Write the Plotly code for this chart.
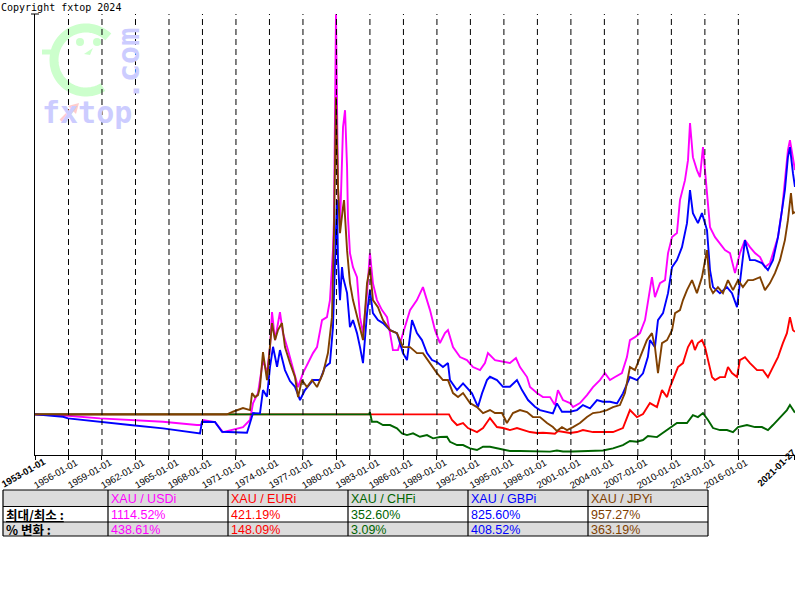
import numpy as np
import pandas as pd
import plotly.graph_objects as go

# ---------------- data (decimal year, index value; start = 100) ----------------
usd = [(1953.0, 100), (1955.96, 97.5), (1958.82, 92.8), (1961.5, 89.8), (1964.46, 86.7), (1967.5, 80.8),
       (1967.87, 80.8), (1968.05, 89.8), (1969.12, 86.2), (1969.84, 68.2), (1970.47, 71.8), (1971.63, 77.2),
       (1972.26, 89.8), (1972.53, 120.3), (1972.97, 138.2), (1973.42, 197.5), (1973.78, 174.1), (1974.05, 220.8),
       (1974.23, 283.6), (1974.5, 233.4), (1974.94, 283.6), (1975.21, 245.9), (1975.66, 215.4), (1976.11, 183.1),
       (1976.56, 149.0), (1977.0, 174.1), (1977.45, 192.1), (1977.9, 210.0), (1978.26, 220.8), (1978.71, 269.3),
       (1979.15, 274.6), (1979.42, 305.2), (1979.69, 394.9), (1979.78, 448.8), (1979.96, 818.6), (1980.05, 664.3),
       (1980.14, 508.0), (1980.32, 436.2), (1980.59, 615.8), (1980.77, 646.3), (1980.95, 544.0), (1981.03, 454.2),
       (1981.21, 389.6), (1981.48, 364.4), (1981.84, 346.5), (1982.11, 274.6), (1982.38, 245.9), (1982.74, 317.7),
       (1983.0, 389.6), (1983.27, 335.7), (1983.63, 305.2), (1984.08, 287.2), (1984.53, 274.6), (1984.8, 245.9),
       (1985.06, 215.4), (1985.51, 215.4), (1985.96, 245.9), (1986.59, 287.2), (1987.21, 305.2), (1987.75, 328.5),
       (1988.38, 287.2), (1988.83, 251.3), (1989.27, 228.0), (1989.72, 245.9), (1989.99, 251.3), (1990.44, 220.8),
       (1991.07, 202.9), (1991.69, 197.5), (1992.23, 184.9), (1992.86, 179.5), (1993.3, 192.1), (1993.57, 210.0),
       (1994.2, 197.5), (1994.92, 193.9), (1995.54, 192.1), (1996.08, 201.1), (1996.44, 184.9), (1997.07, 167.0),
       (1997.34, 149.0), (1997.96, 138.2), (1998.5, 131.0), (1999.13, 131.0), (1999.57, 116.7), (1999.84, 143.6),
       (2000.29, 125.7), (2000.92, 120.3), (2001.19, 113.1), (2001.81, 120.3), (2002.44, 134.6), (2002.98, 149.0),
       (2003.6, 161.6), (2004.05, 174.1), (2004.5, 161.6), (2004.95, 167.0), (2005.57, 174.1), (2006.02, 202.9),
       (2006.29, 233.4), (2006.74, 238.7), (2007.19, 245.9), (2007.64, 269.3), (2007.9, 305.2), (2008.26, 346.5),
       (2008.53, 310.6), (2008.98, 335.7), (2009.43, 341.1), (2009.7, 389.6), (2010.06, 418.3), (2010.5, 425.5),
       (2010.77, 484.7), (2011.22, 520.6), (2011.49, 556.5), (2011.67, 623.0), (2011.93, 561.9), (2012.29, 538.6),
       (2012.56, 526.0), (2012.83, 579.9), (2013.19, 497.3), (2013.46, 436.2), (2013.91, 418.3), (2014.35, 407.5),
       (2014.8, 394.9), (2015.25, 389.6), (2015.7, 353.6), (2016.14, 389.6), (2016.59, 412.9), (2017.04, 400.3),
       (2017.49, 389.6), (2017.94, 382.4), (2018.38, 364.4), (2018.83, 371.6), (2019.1, 389.6), (2019.55, 418.3),
       (2019.91, 466.8), (2020.17, 515.2), (2020.44, 574.5), (2020.62, 592.4), (2020.89, 556.5), (2021.07, 538.61)]

eur = [(1953.0, 100), (1990.08, 100), (1990.35, 89.8), (1990.8, 80.8), (1991.34, 84.4), (1991.78, 75.4),
       (1992.59, 68.2), (1993.13, 75.4), (1993.75, 93.3), (1994.38, 77.2), (1994.92, 75.4), (1995.54, 71.8),
       (1996.17, 75.4), (1996.71, 71.8), (1997.34, 68.2), (1997.96, 66.4), (1998.5, 67.0), (1999.13, 66.0),
       (1999.57, 65.2), (1999.84, 70.0), (2000.29, 68.2), (2000.92, 66.4), (2001.54, 68.2), (2002.08, 71.8),
       (2002.98, 68.2), (2003.87, 68.2), (2004.77, 68.2), (2005.66, 75.4), (2006.29, 107.7), (2006.92, 95.1),
       (2007.46, 100.5), (2008.08, 120.3), (2008.71, 113.1), (2009.16, 143.6), (2009.61, 131.0), (2009.88, 149.0),
       (2010.33, 174.1), (2010.59, 184.9), (2011.04, 192.1), (2011.49, 220.8), (2011.85, 233.4), (2012.11, 215.4),
       (2012.38, 228.0), (2012.74, 233.4), (2013.01, 220.8), (2013.28, 197.5), (2013.64, 166.9), (2013.91, 161.6),
       (2014.35, 166.9), (2014.8, 166.9), (2015.07, 184.9), (2015.43, 174.1), (2015.88, 166.9), (2016.14, 197.5),
       (2016.59, 202.8), (2017.04, 192.1), (2017.67, 179.5), (2018.2, 179.5), (2018.65, 166.9), (2019.1, 184.9),
       (2019.55, 202.8), (2019.99, 228.0), (2020.35, 245.9), (2020.62, 274.6), (2020.89, 251.3), (2021.07, 248.09)]

chf = [(1953.0, 100), (1982.92, 100), (1983.0, 104.1), (1983.18, 86.7), (1983.63, 86.7), (1984.17, 80.8),
       (1984.8, 80.8), (1985.42, 74.9), (1985.87, 65.9), (1986.32, 62.8), (1986.86, 65.9), (1987.48, 59.8),
       (1988.11, 62.8), (1988.65, 56.9), (1989.27, 59.2), (1989.9, 59.8), (1990.17, 50.8), (1990.8, 44.9),
       (1991.34, 44.9), (1991.96, 39.0), (1992.59, 35.9), (1993.13, 41.8), (1993.75, 41.8), (1994.38, 39.0),
       (1994.92, 35.9), (1995.54, 34.1), (1996.44, 34.1), (1997.34, 33.6), (1998.23, 33.2), (1999.13, 33.1),
       (1999.75, 35.0), (2000.29, 33.2), (2001.19, 33.2), (2002.08, 34.1), (2002.98, 34.1), (2003.87, 35.0),
       (2004.77, 39.0), (2005.66, 44.9), (2006.29, 52.1), (2006.92, 50.8), (2007.46, 53.9), (2007.9, 61.0),
       (2008.71, 59.2), (2009.61, 71.8), (2010.5, 84.4), (2011.4, 84.4), (2011.93, 98.7), (2012.38, 95.1),
       (2012.83, 102.3), (2013.28, 89.8), (2013.73, 75.4), (2014.35, 71.8), (2014.98, 71.8), (2015.52, 68.2),
       (2015.97, 77.2), (2016.77, 80.8), (2017.49, 77.2), (2018.11, 77.2), (2018.65, 71.8), (2019.1, 80.8),
       (2019.73, 95.1), (2020.35, 107.7), (2020.62, 116.7), (2020.89, 107.7), (2021.07, 103.09)]

gbp = [(1953.0, 100), (1955.51, 95.7), (1955.96, 92.8), (1958.55, 86.7), (1961.51, 80.8), (1964.46, 74.9),
       (1967.78, 65.9), (1967.96, 86.7), (1969.12, 86.2), (1969.75, 68.8), (1971.99, 67.0), (1972.26, 84.4),
       (1972.53, 102.3), (1973.15, 101.8), (1973.42, 143.6), (1973.78, 131.6), (1974.05, 185.4), (1974.32, 221.3),
       (1974.68, 185.4), (1974.94, 215.4), (1975.39, 179.5), (1975.84, 159.8), (1976.29, 149.5), (1976.74, 125.7),
       (1977.18, 143.6), (1977.9, 161.6), (1978.53, 161.6), (1978.97, 184.9), (1979.42, 192.1), (1979.69, 256.7),
       (1979.87, 394.9), (1980.05, 484.7), (1980.14, 377.0), (1980.32, 305.2), (1980.5, 364.4), (1980.59, 346.5),
       (1980.95, 317.7), (1981.21, 256.7), (1981.48, 269.3), (1981.84, 245.9), (1982.11, 220.8), (1982.38, 192.1),
       (1982.74, 281.8), (1983.0, 323.1), (1983.27, 281.8), (1983.72, 269.3), (1984.17, 263.9), (1984.8, 251.3),
       (1985.42, 245.9), (1985.96, 210.0), (1986.32, 197.5), (1986.77, 269.3), (1987.21, 245.9), (1987.66, 233.4),
       (1988.11, 210.0), (1988.56, 197.5), (1989.0, 193.9), (1989.54, 184.9), (1989.99, 192.1), (1990.17, 161.6),
       (1990.8, 143.6), (1991.34, 155.7), (1992.14, 137.7), (1992.68, 113.6), (1993.04, 137.7), (1993.48, 161.6),
       (1993.75, 167.5), (1994.38, 161.6), (1994.92, 149.5), (1995.54, 149.5), (1996.17, 161.6), (1996.62, 143.6),
       (1997.16, 125.7), (1997.78, 113.6), (1998.23, 107.7), (1998.86, 104.7), (1999.39, 101.8), (1999.75, 119.7),
       (2000.2, 104.7), (2000.92, 104.7), (2001.54, 107.7), (2002.08, 116.7), (2002.71, 110.8), (2003.34, 125.7),
       (2003.87, 122.6), (2004.5, 122.6), (2005.13, 119.7), (2005.66, 137.7), (2006.29, 167.0), (2006.92, 161.6),
       (2007.46, 173.6), (2007.9, 203.4), (2008.08, 233.4), (2008.53, 220.8), (2008.8, 269.3), (2009.25, 281.8),
       (2009.7, 317.7), (2010.06, 364.4), (2010.5, 377.0), (2010.95, 400.3), (2011.4, 443.4), (2011.67, 502.7),
       (2011.93, 461.4), (2012.38, 443.4), (2012.74, 461.4), (2013.19, 430.9), (2013.46, 359.1), (2013.73, 328.5),
       (2014.35, 317.7), (2014.98, 328.5), (2015.43, 317.7), (2015.88, 292.6), (2016.14, 341.1), (2016.59, 412.9),
       (2017.04, 377.0), (2017.49, 377.0), (2018.11, 371.6), (2018.65, 359.1), (2019.1, 377.0), (2019.55, 418.3),
       (2019.91, 466.8), (2020.17, 502.7), (2020.44, 561.9), (2020.62, 579.9), (2020.89, 533.2), (2021.07, 508.52)]

jpy = [(1953.0, 100), (1970.2, 100), (1970.73, 104.7), (1971.63, 111.3), (1972.26, 107.7), (1972.44, 138.2),
       (1972.7, 131.0), (1972.97, 134.6), (1973.15, 149.0), (1973.42, 211.8), (1973.78, 161.6), (1974.05, 228.0),
       (1974.23, 263.9), (1974.5, 233.4), (1974.76, 251.3), (1975.12, 263.9), (1975.39, 220.8), (1975.84, 192.1),
       (1976.29, 166.9), (1976.56, 131.0), (1976.91, 161.6), (1977.36, 149.0), (1977.81, 161.6), (1978.26, 149.0),
       (1978.8, 174.1), (1979.24, 210.0), (1979.6, 274.6), (1979.78, 425.4), (1979.96, 669.5), (1980.14, 508.0),
       (1980.32, 425.4), (1980.59, 472.1), (1980.68, 484.7), (1980.95, 394.9), (1981.21, 335.7), (1981.48, 305.2),
       (1981.84, 274.6), (1982.11, 251.3), (1982.38, 233.4), (1982.74, 335.7), (1983.0, 364.4), (1983.27, 305.2),
       (1983.72, 292.6), (1984.17, 269.3), (1984.8, 251.3), (1985.42, 245.9), (1985.96, 220.8), (1986.59, 220.8),
       (1987.21, 210.0), (1987.75, 210.0), (1988.38, 192.1), (1989.0, 174.1), (1989.54, 161.6), (1989.99, 161.6),
       (1990.44, 138.2), (1990.89, 131.0), (1991.34, 138.2), (1991.96, 120.3), (1992.59, 113.1), (1993.13, 102.3),
       (1993.75, 107.7), (1994.2, 102.3), (1994.83, 102.3), (1995.27, 84.4), (1995.81, 102.3), (1996.44, 107.7),
       (1997.07, 104.1), (1997.6, 95.1), (1998.23, 95.1), (1998.86, 84.4), (1999.39, 77.2), (1999.75, 70.0),
       (2000.2, 77.2), (2000.65, 71.8), (2001.19, 77.2), (2001.81, 84.4), (2002.44, 95.1), (2002.98, 102.3),
       (2003.6, 104.1), (2004.23, 107.7), (2004.77, 113.1), (2005.39, 116.7), (2005.84, 138.2), (2006.29, 184.9),
       (2006.74, 179.5), (2007.19, 201.0), (2007.81, 233.4), (2008.26, 245.9), (2008.53, 220.8), (2008.8, 174.1),
       (2009.16, 228.0), (2009.61, 233.4), (2010.06, 251.3), (2010.33, 281.8), (2010.77, 287.2), (2011.04, 305.2),
       (2011.4, 323.1), (2011.85, 341.1), (2012.29, 317.7), (2012.74, 346.4), (2013.01, 377.0), (2013.19, 394.9),
       (2013.46, 328.5), (2013.73, 317.7), (2014.17, 328.5), (2014.62, 317.7), (2015.07, 341.1), (2015.52, 323.1),
       (2015.97, 341.1), (2016.41, 328.5), (2016.86, 341.1), (2017.31, 341.1), (2017.94, 346.4), (2018.38, 323.1),
       (2018.83, 335.7), (2019.28, 353.6), (2019.73, 377.0), (2020.17, 412.9), (2020.44, 448.8), (2020.71, 497.2),
       (2020.89, 461.3), (2021.07, 463.19)]

series_names = ["XAU / USDi", "XAU / EURi", "XAU / CHFi", "XAU / GBPi", "XAU / JPYi"]
series_data = [usd, eur, chf, gbp, jpy]
series_colors = ["#ff00ff", "#ff0000", "#006400", "#0000ff", "#804000"]
maxmin_pct = ["1114.52%", "421.19%", "352.60%", "825.60%", "957.27%"]
change_pct = ["438.61%", "148.09%", "3.09%", "408.52%", "363.19%"]

tick_dates = ["1953-01-01"] + ["%d-01-01" % y for y in range(1956, 2017, 3)] + ["2021-01-27"]
row_labels = ["최대/최소 :", "% 변화 :"]


def to_date(t):
    y = int(t)
    start = pd.Timestamp(year=y, month=1, day=1)
    end = pd.Timestamp(year=y + 1, month=1, day=1)
    return start + (end - start) * (t - y)


# ---------------- geometry helpers (pixel -> paper) ----------------
L, R, T, B = 35, 795, 14, 455
W, H = R - L, B - T


def px(x):
    return (x - L) / W


def py(y):
    return (B - y) / H


fig = go.Figure()
for name, data, col in zip(series_names, series_data, series_colors):
    fig.add_trace(go.Scatter(
        x=[to_date(t) for t, v in data], y=[v for t, v in data],
        mode="lines", name=name, line=dict(color=col, width=1.9), hoverinfo="skip"))

shapes = []
annotations = []

# dashed vertical lines
for d in tick_dates[1:-1]:
    shapes.append(dict(type="line", xref="x", yref="paper", x0=d, x1=d, y0=0, y1=1,
                       line=dict(color="black", width=1, dash="6px,4px"), layer="above"))
# y axis top cap
shapes.append(dict(type="line", xref="paper", yref="paper", x0=px(31), x1=px(39), y0=py(14), y1=py(14),
                   line=dict(color="black", width=1)))

# rotated x tick labels (centred on the label)
for i, d in enumerate(tick_dates):
    if i == 0:
        txt, xs, yy, ang_t = "<b>%s</b>" % d, -11.5, 472.5, -30
    elif i == len(tick_dates) - 1:
        txt, xs, yy, ang_t = "<b>%s</b>" % d, -18.5, 467.5, -44
    else:
        txt, xs, yy, ang_t = d, -12.5, 473.3, -30
    annotations.append(dict(xref="x", yref="paper", x=d, y=py(yy), xshift=xs, xanchor="center",
                            yanchor="middle", text=txt, textangle=ang_t, showarrow=False, borderpad=0,
                            font=dict(family="Liberation Sans, Arial", size=9.5, color="black")))

# ---------------- watermark logo ----------------
cx, cy, r = 86, 60, 32
ang = np.radians(np.linspace(46, 302, 60))
pts = [(cx + r * np.cos(a), cy - r * np.sin(a)) for a in ang]
path = "M " + " L ".join("%.4f,%.4f" % (px(x), py(y)) for x, y in pts)
shapes.append(dict(type="path", xref="paper", yref="paper", path=path,
                   line=dict(color="#ccffcc", width=9), layer="below"))
shapes.append(dict(type="line", xref="paper", yref="paper", x0=px(42), x1=px(56), y0=py(52), y1=py(52),
                   line=dict(color="#ccffcc", width=5), layer="below"))
for ex in (80, 97):
    shapes.append(dict(type="circle", xref="paper", yref="paper", x0=px(ex - 4), x1=px(ex + 4),
                       y0=py(42 + 4), y1=py(42 - 4), fillcolor="#ccffcc", line=dict(width=0), layer="below"))
shapes.append(dict(type="path", xref="paper", yref="paper",
                   path="M %f,%f L %f,%f L %f,%f Z" % (px(84), py(54), px(93), py(48), px(90), py(55)),
                   fillcolor="#ccffcc", line=dict(width=0), layer="below"))
annotations.append(dict(xref="paper", yref="paper", x=px(40), y=py(112), xanchor="left", yanchor="middle",
                        text="<b>fxtop</b>", showarrow=False,
                        font=dict(family="DejaVu Sans Mono", size=30, color="#ccccff")))
annotations.append(dict(xref="paper", yref="paper", x=px(129), y=py(64), xanchor="center", yanchor="middle",
                        text="<b>.com</b>", textangle=-90, showarrow=False,
                        font=dict(family="DejaVu Sans Mono", size=30, color="#ccccff")))
shapes.append(dict(type="line", xref="paper", yref="paper", x0=px(61), x1=px(74), y0=py(121), y1=py(108),
                   line=dict(color="#ffcccc", width=4)))
shapes.append(dict(type="path", xref="paper", yref="paper",
                   path="M %f,%f L %f,%f L %f,%f Z" % (px(79), py(103), px(68), py(106), px(76), py(114)),
                   fillcolor="#ffcccc", line=dict(width=0)))

# copyright
annotations.append(dict(xref="paper", yref="paper", x=px(-1), y=py(7), xanchor="left", yanchor="middle",
                        text="Copyright fxtop 2024", showarrow=False,
                        font=dict(family="DejaVu Sans Mono", size=10, color="black")))

# ---------------- table ----------------
col_edges = [3, 108, 228, 348, 468, 588, 708]
row_edges = [490, 506.5, 522, 536]
row_fill = ["#dcdcdc", "#ffffff", "#dcdcdc"]
for ri in range(3):
    shapes.append(dict(type="rect", xref="paper", yref="paper", x0=px(col_edges[0]), x1=px(col_edges[-1]),
                       y0=py(row_edges[ri + 1]), y1=py(row_edges[ri]), fillcolor=row_fill[ri],
                       line=dict(width=0)))
for yv in row_edges:
    shapes.append(dict(type="line", xref="paper", yref="paper", x0=px(col_edges[0]), x1=px(col_edges[-1]),
                       y0=py(yv), y1=py(yv), line=dict(color="black", width=1.2)))
for xv in col_edges:
    shapes.append(dict(type="line", xref="paper", yref="paper", x0=px(xv), x1=px(xv),
                       y0=py(row_edges[0]), y1=py(row_edges[-1]), line=dict(color="black", width=1.2)))

cell_font = "Liberation Sans, Arial, Noto Sans CJK KR"
rows_text = [series_names, maxmin_pct, change_pct]
for ri in range(3):
    yc = (row_edges[ri] + row_edges[ri + 1]) / 2 + 0.5
    for ci in range(5):
        annotations.append(dict(xref="paper", yref="paper", x=px(col_edges[ci + 1] + 1), y=py(yc),
                                xanchor="left", yanchor="middle", text=rows_text[ri][ci], showarrow=False,
                                font=dict(family=cell_font, size=12.5, color=series_colors[ci])))
annotations.append(dict(xref="paper", yref="paper", x=px(col_edges[0] + 2), y=py((row_edges[1] + row_edges[2]) / 2 + 0.5),
                        xanchor="left", yanchor="middle", showarrow=False, borderpad=0,
                        text='<span style="text-decoration:underline"><b>%s</b></span>' % row_labels[0],
                        font=dict(family="Noto Sans CJK KR", size=12.5, color="black")))
annotations.append(dict(xref="paper", yref="paper", x=px(col_edges[0] + 2), y=py((row_edges[2] + row_edges[3]) / 2 + 0.5),
                        xanchor="left", yanchor="middle", showarrow=False, borderpad=0,
                        text="<b>%s</b>" % row_labels[1],
                        font=dict(family="Noto Sans CJK KR", size=12.5, color="black")))

fig.update_layout(
    width=800, height=600, autosize=False,
    margin=dict(l=L, r=800 - R, t=T, b=600 - B, pad=0),
    paper_bgcolor="white", plot_bgcolor="white",
    showlegend=False,
    shapes=shapes, annotations=annotations,
    xaxis=dict(type="date", range=["1952-12-31 12:00", "2021-01-27 12:00"], tickvals=tick_dates,
               showticklabels=False, ticks="outside", ticklen=4, tickcolor="black",
               showline=True, linecolor="black", linewidth=1, showgrid=False, zeroline=False),
    yaxis=dict(range=[27, 819], showline=True, linecolor="black", linewidth=1, showticklabels=False,
               ticks="", showgrid=False, zeroline=False),
)

fig.write_html("out.html", config={"displayModeBar": False},
               post_script="document.body.style.margin='0px';")
